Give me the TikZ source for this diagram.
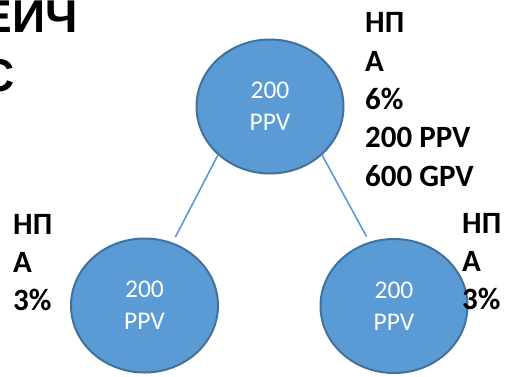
\documentclass[tikz,border=0pt]{standalone}
\usepackage{fontspec}
\setmainfont{Carlito}
\newfontfamily\titlefont{Liberation Sans}
\usetikzlibrary{shapes.geometric}
\definecolor{ppvblue}{HTML}{5B9BD5}
\definecolor{ppvedge}{HTML}{41719C}
\tikzset{
  ppv/.style={ellipse, draw=ppvedge, line width=2pt, fill=ppvblue, text=white,
    minimum width=147pt, minimum height=134pt, inner sep=0pt, align=center,
    font=\fontsize{25.5}{32}\selectfont},
  link/.style={draw=ppvblue, line width=1.6pt, shorten >=6pt},
  npa/.style={anchor=north west, inner sep=0pt, align=left,
    font=\bfseries\fontsize{31}{38.3}\selectfont}
}
\begin{document}
\begin{tikzpicture}[x=1pt, y=-1pt]
    \clip (0,0) rectangle (508,376);
    % title, cut by the page edge
    \node[anchor=north west, inner sep=0pt, align=left,
      font=\titlefont\bfseries\fontsize{46}{59}\selectfont] (title) at (-18.6,1) {ЕИЧ\\С};
    % the three partners
    \node[ppv] (top) at (270,106.5) {200\\PPV};
    \node[ppv] (left) at (144.5,305.5) {200\\PPV};
    \node[ppv] (right) at (394,306) {200\\PPV};
    \draw[link] (top.223)--(left.66);
    \draw[link] (top.317)--(right.111);
    % labels
    \node[npa] (toplabel) at (365,12.5) {НП\\А\\6\%\\200 PPV\\600 GPV};
    \node[npa] (leftlabel) at (13,214) {НП\\А\\3\%};
    \node[npa] (rightlabel) at (462,213) {НП\\А\\3\%};
\end{tikzpicture}
\end{document}
